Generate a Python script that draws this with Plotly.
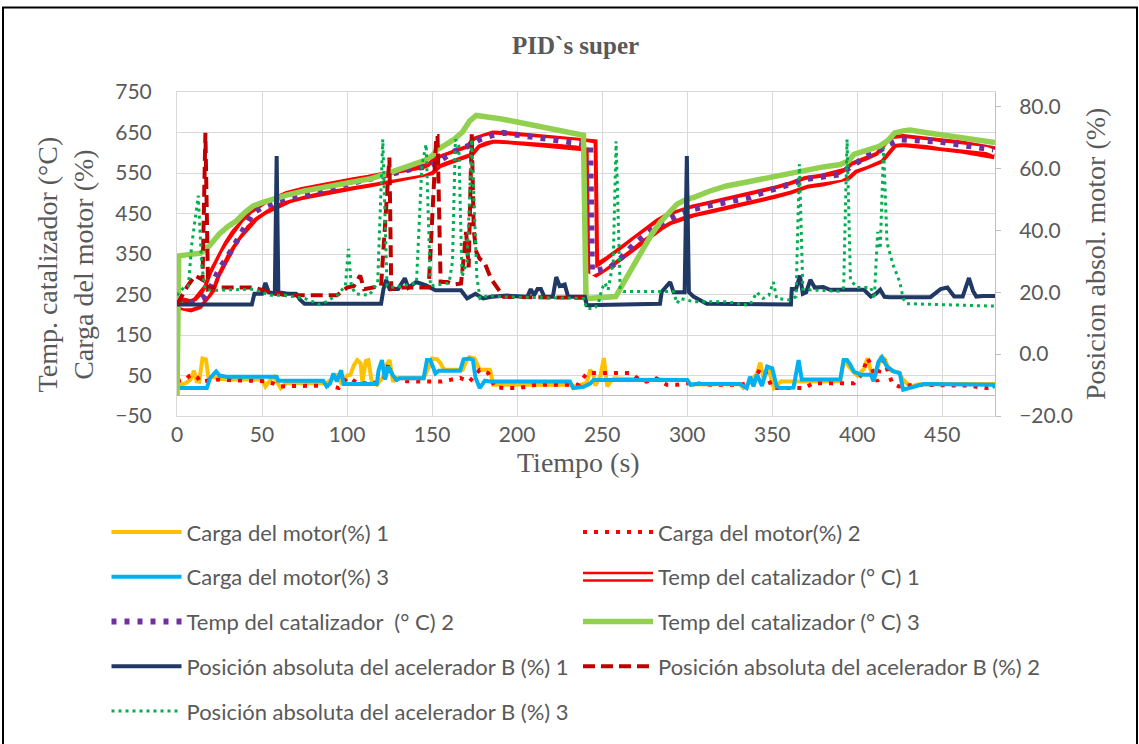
import plotly.graph_objects as go

# ---------------- data (time in s) ----------------
t_carga1 = [
    0, 3, 5, 8, 10, 11.5, 13, 15, 17, 18.5,
    21, 25, 30, 40, 50, 52, 55, 57, 59, 61,
    64, 75, 88, 94, 97, 100, 102, 104, 106, 108,
    109, 111, 112.5, 114.5, 117.5, 121, 123, 125, 127, 129,
    140, 145, 148, 150, 153, 155, 157, 165, 168, 170,
    172, 175, 177, 178, 184, 186, 200, 215, 231, 234,
    239, 241, 243, 245, 246, 249, 251, 253, 255, 257,
    270, 290, 300, 302, 315, 331, 333, 337, 341, 343,
    345, 348, 350, 351, 355, 375, 390, 392, 394, 398,
    400, 404, 406, 408, 410, 412, 414, 416, 418, 420,
    424, 427, 429, 432, 435, 450, 465, 481]
carga1 = [
    23, 28, 31, 40, 62, 36, 35, 92, 90, 44,
    47, 42, 40, 40, 40, 23, 40, 47, 35, 19,
    31, 31, 31, 50, 28, 50, 52, 75, 88, 80,
    33, 86, 88, 35, 27, 45, 76, 88, 35, 43,
    43, 43, 70, 92, 90, 80, 64, 64, 64, 85,
    95, 92, 70, 64, 64, 27, 27, 27, 27, 23,
    30, 32, 64, 52, 25, 50, 93, 23, 35, 43,
    40, 40, 39, 28, 29, 29, 19, 33, 55, 82,
    40, 68, 30, 19, 35, 35, 36, 84, 78, 58,
    50, 66, 93, 62, 40, 70, 95, 92, 72, 62,
    58, 40, 31, 22, 28, 29, 29, 29]

t_carga2 = [
    0, 3, 5, 7, 9.5, 12, 13.5, 20, 25, 35,
    45, 52, 57, 60.5, 65, 90, 95, 100, 103, 106,
    113, 118, 121, 123, 124.3, 125.5, 129, 135, 143, 155.7,
    161.6, 166.5, 172, 178, 183, 187, 193, 200, 205, 211,
    236, 241, 266.5, 272, 276, 282, 288, 294, 302, 315,
    331, 339, 343, 346, 350, 369, 374, 398, 402, 404,
    406, 408, 410, 412, 413, 416, 418, 420.6, 424.5, 433,
    465, 476, 481]
carga2 = [
    36, 38, 40, 48, 52, 45, 35, 38, 40, 38,
    36, 36, 30, 23, 24, 25, 19, 44, 40, 31,
    31, 33, 40, 50, 80, 60, 40, 36, 35, 35,
    40, 44, 35, 64, 56, 21, 19, 19, 22, 27,
    27, 56, 56, 40, 35, 43, 27, 27, 32, 27,
    27, 35, 68, 60, 19, 19, 31, 31, 50, 68,
    93, 76, 50, 35, 64, 88, 60, 31, 23, 27,
    25, 19, 23]

t_carga3 = [
    0, 17.5, 19.5, 23, 25, 29, 58.6, 59.6, 86, 88,
    90, 92, 94, 96.5, 98, 117.5, 118.5, 120.5, 122.3, 124.3,
    127, 129, 131, 145, 147, 149, 152, 154, 166.5, 168.5,
    172, 174, 175.5, 178, 181, 184, 231, 233, 239, 243,
    245, 300, 302, 305, 331, 335, 337, 339, 341, 344,
    347, 350, 352.6, 354.6, 362.5, 365.5, 367.4, 390, 392, 394,
    396, 398, 402, 408, 409.6, 412.5, 414.5, 417.5, 421.4, 425,
    427, 431, 435, 439, 480, 481]
carga3 = [
    19, 19, 44, 60, 50, 47, 47, 37, 37, 23,
    30, 55, 35, 63, 29, 29, 62, 88, 40, 72,
    50, 40, 43, 43, 88, 88, 55, 62, 62, 90,
    92, 88, 45, 19, 37, 35, 35, 19, 22, 30,
    39, 39, 27, 29, 29, 19, 47, 23, 52, 24,
    72, 68, 23, 19, 20, 88, 40, 40, 88, 88,
    76, 60, 52, 52, 36, 84, 95, 72, 60, 56,
    15, 19, 23, 29, 27, 19]

t_temp1 = [
    0, 4, 8, 12, 16, 19, 22, 25, 28, 31,
    35, 40, 45, 50, 55, 60, 65, 74, 84, 94,
    104, 113, 123, 133, 140, 145, 149, 153, 158, 163,
    167, 172, 176, 181, 186, 195, 205, 215, 225, 235,
    241, 243.5, 244.5, 249, 255, 260, 265, 270, 274, 279,
    284, 289, 294, 299, 304, 313, 323, 333, 343, 351,
    360, 370, 380, 390, 394, 398, 405, 413, 417, 421,
    427, 433, 441, 449, 460, 470, 476, 481]
temp1 = [
    230, 222, 222, 228, 245, 265, 300, 328, 352, 372,
    398, 425, 445, 460, 473, 483, 490, 500, 510, 518,
    524, 530, 537, 545, 550, 553, 560, 576, 585, 592,
    597, 605, 625, 634, 639, 637, 633, 630, 628, 624,
    621, 618, 305, 314, 333, 348, 365, 382, 395, 410,
    424, 436, 445, 452, 457, 465, 473, 485, 494, 502,
    512, 527, 533, 539, 548, 563, 573, 588, 608, 628,
    630, 629, 625, 620, 615, 610, 608, 600]

t_temp2 = [
    0, 5, 10, 15, 19, 22, 25, 29, 33, 39,
    45, 50, 55, 64, 74, 84, 94, 104, 113, 123,
    133, 140, 149, 154, 158, 163, 168, 172, 178, 185,
    192, 200, 210, 225, 239, 243, 244, 250, 255, 260,
    268, 276, 284, 294, 304, 313, 323, 331, 337, 341,
    351, 360, 370, 380, 390, 396, 401, 406, 413, 418,
    425, 433, 440, 449, 460, 470, 480]
temp2 = [
    232, 228, 230, 240, 260, 285, 314, 338, 367, 412,
    453, 465, 473, 487, 494, 506, 518, 527, 535, 546,
    557, 562, 567, 580, 592, 603, 612, 618, 633, 643,
    649, 645, 640, 630, 622, 617, 307, 312, 318, 335,
    371, 400, 424, 445, 461, 470, 477, 484, 490, 497,
    510, 522, 535, 541, 547, 565, 578, 592, 605, 620,
    633, 632, 630, 627, 620, 615, 608]

t_temp3 = [
    0, 1, 2, 8, 14, 19, 25, 30, 35, 40,
    45, 50, 55, 65, 75, 85, 95, 105, 114, 123,
    133, 140, 145, 150, 153, 158, 163, 168, 172, 176,
    180, 190, 200, 210, 220, 230, 239, 240.5, 245, 252,
    258, 264, 269, 274, 279, 284, 289, 294, 299, 304,
    313, 323, 333, 343, 351, 360, 370, 380, 390, 395,
    398, 405, 413, 418, 422, 427, 431, 440, 449, 460,
    470, 481]
temp3 = [
    0, 345, 346, 349, 352, 370, 400, 418, 432, 453,
    469, 477, 484, 496, 506, 513, 520, 528, 536, 548,
    563, 572, 580, 592, 608, 620, 633, 652, 678, 692,
    690, 684, 676, 668, 660, 652, 643, 240, 242, 243,
    245, 289, 325, 363, 398, 428, 453, 473, 484, 490,
    505, 518, 526, 535, 540, 549, 559, 565, 571, 580,
    596, 605, 616, 630, 649, 654, 656, 650, 645, 638,
    632, 625]

t_pos1 = [
    0, 44, 45.5, 50, 52, 54, 57.5, 58.6, 59.6, 65,
    70, 72.5, 75, 120, 121.4, 123, 125, 130, 134, 136,
    140.6, 146.5, 152, 167, 170.6, 175.5, 180, 185, 194, 206,
    208, 210, 212, 214, 216, 221, 223, 225, 228, 230,
    239.8, 241, 284, 285, 290, 292, 298.5, 299.8, 301, 303.7,
    311.5, 343, 361, 361.5, 364, 366.3, 368, 370, 372.4, 375,
    380, 384, 404, 408, 411, 413.5, 416, 419, 443, 449,
    453, 457, 462, 465.7, 468, 470, 474, 481]
pos1 = [
    16, 16, 19.5, 19.5, 23, 20, 19.5, 64, 20, 19.5,
    19.5, 17.5, 16.3, 16.3, 21, 24, 21, 21, 24.5, 21.5,
    23.3, 22.2, 20.6, 20.6, 18, 19.5, 18, 18.5, 18.9, 18.5,
    21, 19, 21, 21, 18.5, 18.5, 24.9, 22, 22.5, 18.5,
    18.5, 15.8, 16.3, 20.1, 23.3, 20, 20, 64, 20, 18.6,
    16.3, 16, 16, 21, 21, 25.4, 19.5, 20, 24, 21.5,
    21.7, 20.8, 20.8, 18.6, 19.5, 20.8, 18.5, 18.4, 18.4, 21,
    21.5, 18.6, 18.6, 24.6, 20.5, 18.6, 18.8, 18.8]

t_pos2 = [
    0, 3, 6, 10.6, 15, 16.7, 18.3, 21, 45, 55,
    64, 94, 100, 104, 107.7, 110, 120, 124.9, 126, 133,
    148, 152.5, 153.2, 155, 159, 163, 167, 168.4, 170, 171.5,
    173.3, 174.5, 176, 178, 180.7, 184.6, 188.5, 192, 239]
pos2 = [
    16, 19, 21.8, 25.4, 24, 71.5, 21, 21.5, 21.5, 20,
    19, 19, 21.5, 22, 25.4, 21, 22, 63.5, 21, 21.5,
    21.5, 70.5, 70.5, 23.3, 23.3, 22.5, 22.8, 30, 39.5, 28,
    71, 40, 33, 30.8, 29.8, 24.4, 21.2, 18.5, 18.2]

t_pos3 = [
    0, 4, 6.7, 8.6, 12.5, 14.5, 16.5, 20, 45, 55,
    64, 75, 84, 88, 94, 99, 100.8, 102.5, 105, 113,
    118, 121, 123.5, 128, 140.8, 144, 146.5, 149, 160, 162,
    163.7, 165.7, 167.6, 170.6, 173.3, 176.3, 178.2, 183, 191, 239,
    241, 245, 247.6, 249.6, 251.6, 253.5, 256.5, 258.2, 260.6, 262.5,
    292, 294, 296, 304, 323, 335, 337, 341, 344.6, 348,
    350.7, 352.6, 360.4, 364, 366, 368, 370, 390, 392, 394,
    396, 400, 408, 410, 412, 413.5, 415.5, 417.5, 421, 425,
    427, 429, 449, 481]
pos3 = [
    19, 21.5, 22, 35, 51.2, 29, 21, 20.6, 21, 19,
    19, 18, 16, 17, 19, 22, 34, 22, 19.5, 19,
    23, 69.4, 22, 21.5, 23, 61, 67.8, 22, 23, 30,
    69.4, 67.2, 25, 30, 69.4, 25, 18, 19, 18.5, 18,
    14.7, 14.7, 15.9, 20.7, 23, 20.7, 29.8, 68.8, 21, 20.2,
    20.2, 16.4, 18, 16.9, 16.9, 15.9, 16, 20, 18, 19,
    23.3, 18, 17.5, 18.6, 61.4, 21, 20.8, 20.3, 21.5, 69.4,
    24, 21.5, 21.5, 17.8, 39.5, 34, 66.7, 36, 29, 23.3,
    18, 16.3, 16, 15.5]

x_ticks = [0, 50, 100, 150, 200, 250, 300, 350, 400, 450]
y_ticks = [-50, 50, 150, 250, 350, 450, 550, 650, 750]
y2_ticks = [-20, 0, 20, 40, 60, 80]

# ---------------- page geometry ----------------
W, H = 1139, 744
ML, MR, MT, MB = 177, 144, 92, 326
PW, PH = W - ML - MR, H - MT - MB


def fx(px):
    return (px - ML) / PW


def fy(py):
    return (H - MB - py) / PH


SANS = "Lato"
SERIF = "Liberation Serif"
GREY = "#595959"
GRID = "#D9D9D9"
LEG_FONT = dict(family=SANS, size=22, color=GREY)

# legend slots: (column left px, row centre px)
COLS = [106.5, 578]
ROWS = [535, 580, 625, 670, 715]

fig = go.Figure()


def add(t, v, name, color, width, dash="solid", yaxis="y", legend="legend",
        showlegend=True):
    fig.add_trace(go.Scatter(
        x=t, y=v, name=name, mode="lines", yaxis=yaxis,
        line=dict(color=color, width=width, dash=dash),
        legend=legend, showlegend=showlegend, hoverinfo="skip"))


add(t_carga1, carga1, "Carga del motor(%) 1", "#FFC000", 4, legend="legend")
add(t_carga2, carga2, "Carga del motor(%) 2", "#FF0000", 4, dash="4px,7px",
    legend="legend2")
add(t_carga3, carga3, "Carga del motor(%) 3", "#00B0F0", 4, legend="legend3")
# double (outlined) line: wide red stroke with a white core on top
add(t_temp1, temp1, "Temp del catalizador (° C) 1", "#FF0000", 13,
    legend="legend4")
add(t_temp1, temp1, " ", "#FFFFFF", 5, legend="legend10")
add(t_temp2, temp2, "Temp del catalizador  (° C) 2", "#7030A0", 6,
    dash="5px,8px", legend="legend5")
add(t_temp3, temp3, "Temp del catalizador (° C) 3", "#92D050", 5.5,
    legend="legend6")
add(t_pos1, pos1, "Posición absoluta del acelerador B (%) 1", "#203864", 4,
    yaxis="y2", legend="legend7")
add(t_pos2, pos2, "Posición absoluta del acelerador B (%) 2", "#C00000", 4,
    dash="12px,6px", yaxis="y2", legend="legend8")
add(t_pos3, pos3, "Posición absoluta del acelerador B (%) 3", "#00B050", 3,
    dash="3px,4px", yaxis="y2", legend="legend9")

slots = {
    "legend": (0, 0), "legend2": (1, 0),
    "legend3": (0, 1), "legend4": (1, 1),
    "legend5": (0, 2), "legend6": (1, 2),
    "legend7": (0, 3), "legend8": (1, 3),
    "legend9": (0, 4), "legend10": (1, 1),
}
legends = {}
for key, (c, r) in slots.items():
    legends[key] = dict(
        x=fx(COLS[c]), y=fy(ROWS[r]), xanchor="left", yanchor="middle",
        orientation="h", bgcolor="rgba(0,0,0,0)", borderwidth=0,
        itemwidth=70, font=LEG_FONT)

fig.update_layout(
    width=W, height=H,
    margin=dict(l=ML, r=MR, t=MT, b=MB, pad=0),
    paper_bgcolor="white", plot_bgcolor="white",
    **legends,
    xaxis=dict(
        range=[0, 481], tickvals=x_ticks, showgrid=True, gridcolor=GRID,
        gridwidth=1, zeroline=False, showline=True, linecolor=GRID,
        mirror=True, ticks="", tickfont=dict(family=SANS, size=21, color=GREY)),
    yaxis=dict(
        range=[-50, 750], tickvals=y_ticks, showgrid=True, gridcolor=GRID,
        gridwidth=1, zeroline=True, zerolinecolor="#BFBFBF", zerolinewidth=1,
        showline=True, linecolor=GRID, ticks="", ticklabelstandoff=20,
        tickfont=dict(family=SANS, size=21, color=GREY)),
    yaxis2=dict(
        overlaying="y", side="right", range=[-20, 84.7], tickvals=y2_ticks,
        tickformat=".1f", showgrid=False, zeroline=False, showline=True,
        linecolor="#BFBFBF", ticks="outside", ticklen=5, tickcolor="#BFBFBF",
        ticklabelstandoff=14, tickfont=dict(family=SANS, size=21, color=GREY)),
    annotations=[
        dict(text="<b>PID`s super</b>", x=fx(575), y=fy(45), xref="paper",
             yref="paper", showarrow=False, xanchor="center", yanchor="middle",
             font=dict(family=SERIF, size=25, color=GREY)),
        dict(text="Tiempo (s)", x=fx(578), y=fy(465), xref="paper",
             yref="paper", showarrow=False, xanchor="center", yanchor="middle",
             font=dict(family=SERIF, size=28, color=GREY)),
        dict(text="Temp. catalizador (°C)<br>Carga del motor (%)",
             x=fx(65.5), y=fy(266), xref="paper", yref="paper",
             showarrow=False, xanchor="center", yanchor="middle",
             textangle=-90, font=dict(family=SERIF, size=28, color=GREY)),
        dict(text="Posicion absol. motor (%)", x=fx(1095), y=fy(255),
             xref="paper", yref="paper", showarrow=False, xanchor="center",
             yanchor="middle", textangle=-90,
             font=dict(family=SERIF, size=28, color=GREY)),
    ],
    shapes=[
        dict(type="rect", xref="paper", yref="paper", x0=fx(3), x1=fx(1137),
             y0=fy(760), y1=fy(7), line=dict(color="black", width=2),
             fillcolor="rgba(0,0,0,0)", layer="above"),
    ],
)

fig.write_html("out.html")
